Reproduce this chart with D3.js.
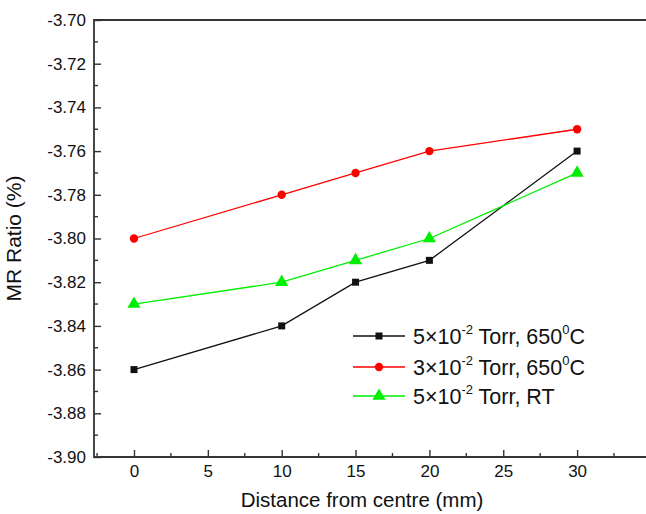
<!DOCTYPE html>
<html>
<head>
<meta charset="utf-8">
<script src="https://cdn.jsdelivr.net/npm/d3@7"></script>
<style>
  body { margin: 0; background: #fff; overflow: hidden; }
  text { font-family: "Liberation Sans", Arial, sans-serif; fill: #111; }
</style>
</head>
<body>
<div class="chart"></div>
<script>
// data
var distances = [0, 10, 15, 20, 30];
var blackSeries = [-3.86, -3.84, -3.82, -3.81, -3.76];
var redSeries = [-3.80, -3.78, -3.77, -3.76, -3.75];
var greenSeries = [-3.83, -3.82, -3.81, -3.80, -3.77];
var xTicks = [0, 5, 10, 15, 20, 25, 30];
var yTicks = [-3.70, -3.72, -3.74, -3.76, -3.78, -3.80, -3.82, -3.84, -3.86, -3.88, -3.90];

var svgWidth = 646, svgHeight = 514;
// right edge of the frame is cut off in the original
var margin = { top: 20, left: 94, bottom: 57, right: 0 };
var width = svgWidth - margin.left - margin.right;
var height = svgHeight - margin.top - margin.bottom;

var svg = d3.select(".chart").append("svg")
    .attr("width", svgWidth)
    .attr("height", svgHeight)
    .style("display", "block");

var chartGroup = svg.append("g")
    .attr("transform", `translate(${margin.left}, ${margin.top})`);

// x: 0 -> 134px, 30 -> 577px in page coords
var xScale = d3.scaleLinear()
    .domain([(94 - 134) / 14.77, (94 + width - 134) / 14.77])
    .range([0, width]);
var yScale = d3.scaleLinear()
    .domain([-3.90, -3.70])
    .range([height, 0]);

// frame: left, top and bottom only (right side is cropped)
chartGroup.append("path")
    .attr("d", `M${width + 5},0 H0 V${height} H${width + 5}`)
    .attr("fill", "none")
    .attr("stroke", "#333")
    .attr("stroke-width", 1.8);

// ticks pointing inward
var bottomAxis = d3.axisBottom(xScale).tickValues(xTicks).tickSize(-7).tickPadding(4);
var leftAxis = d3.axisLeft(yScale).tickValues(yTicks).tickSize(-7).tickPadding(8);

var gx = chartGroup.append("g").attr("transform", `translate(0, ${height})`).call(bottomAxis);
var gy = chartGroup.append("g").call(leftAxis);
[gx, gy].forEach(function (g) {
    g.select(".domain").remove();
    g.selectAll("line").attr("stroke", "#333").attr("stroke-width", 1.4);
    g.selectAll("text").attr("font-size", 17).attr("fill", "#111")
        .style("font-family", "Liberation Sans, Arial, sans-serif");
});
gx.selectAll("text").attr("dy", "0.95em");
gy.selectAll("text").text(function (d) { return d.toFixed(2); });

// minor ticks
var xMinor = d3.range(-2.5, 36, 5);
chartGroup.selectAll(".xminor").data(xMinor).enter().append("line")
    .attr("x1", d => xScale(d)).attr("x2", d => xScale(d))
    .attr("y1", height).attr("y2", height - 4)
    .attr("stroke", "#333").attr("stroke-width", 1.4);
var yMinor = d3.range(-3.89, -3.70, 0.02);
chartGroup.selectAll(".yminor").data(yMinor).enter().append("line")
    .attr("x1", 0).attr("x2", 4)
    .attr("y1", d => yScale(d)).attr("y2", d => yScale(d))
    .attr("stroke", "#333").attr("stroke-width", 1.4);

var series = [
    { name: "black", values: blackSeries, color: "#111", shape: d3.symbolSquare, size: 49, label: ["5×10", "-2", " Torr, 650", "0", "C"] },
    { name: "red", values: redSeries, color: "#ff0000", shape: d3.symbolCircle, size: 55, label: ["3×10", "-2", " Torr, 650", "0", "C"] },
    { name: "green", values: greenSeries, color: "#00ee00", shape: d3.symbolTriangle, size: 75, label: ["5×10", "-2", " Torr, RT"] }
];

var line = d3.line()
    .x((d, i) => xScale(distances[i]))
    .y(d => yScale(d));

series.forEach(function (s) {
    chartGroup.append("path")
        .datum(s.values)
        .attr("d", line)
        .attr("fill", "none")
        .attr("stroke", s.color)
        .attr("stroke-width", 1.3);
});
series.forEach(function (s) {
    chartGroup.selectAll(".pt-" + s.name)
        .data(s.values)
        .enter()
        .append("path")
        .attr("d", d3.symbol().type(s.shape).size(s.size))
        .attr("transform", (d, i) => `translate(${xScale(distances[i])}, ${yScale(d)})`)
        .attr("fill", s.color);
});

// legend
var legendRows = [336, 367, 396];
series.forEach(function (s, i) {
    var y = legendRows[i] - margin.top;
    var lx = 353 - margin.left;
    chartGroup.append("line")
        .attr("x1", lx).attr("x2", lx + 52)
        .attr("y1", y).attr("y2", y)
        .attr("stroke", s.color).attr("stroke-width", 1.3);
    chartGroup.append("path")
        .attr("d", d3.symbol().type(s.shape).size(s.size))
        .attr("transform", `translate(${lx + 26}, ${y})`)
        .attr("fill", s.color);
    var t = chartGroup.append("text")
        .attr("x", lx + 60).attr("y", y + 8)
        .attr("font-size", 21.5);
    s.label.forEach(function (part, k) {
        var ts = t.append("tspan").text(part);
        if (k % 2 === 1) {
            ts.attr("font-size", 13).attr("dy", -10);
        } else if (k > 0) {
            ts.attr("dy", 10);
        }
    });
});

// axis titles
chartGroup.append("text")
    .attr("transform", "rotate(-90)")
    .attr("x", 0 - height / 2)
    .attr("y", 0 - margin.left + 21)
    .attr("text-anchor", "middle")
    .attr("font-size", 21)
    .text("MR Ratio (%)");

chartGroup.append("text")
    .attr("x", 362 - margin.left)
    .attr("y", height + 50)
    .attr("text-anchor", "middle")
    .attr("font-size", 20.5)
    .text("Distance from centre (mm)");
</script>
</body>
</html>
